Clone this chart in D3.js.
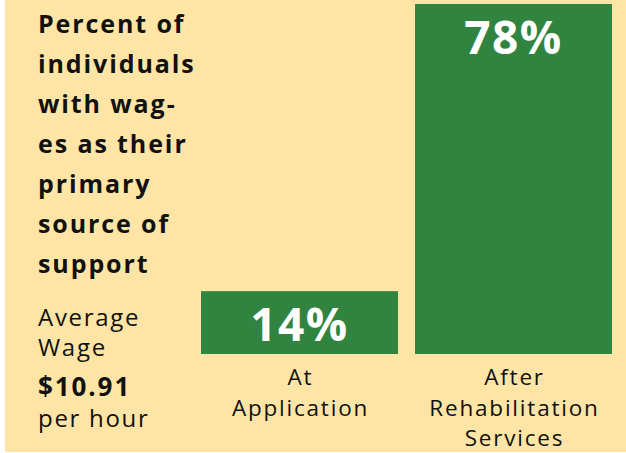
<!DOCTYPE html>
<html>
<head>
<meta charset="utf-8">
<script src="https://cdn.jsdelivr.net/npm/d3@7"></script>
<style>
  html, body { margin: 0; padding: 0; background: #ffffff; }
  svg { display: block; }
  text { font-family: "Open Sans", "Noto Sans", sans-serif; }
</style>
</head>
<body>
<svg width="626" height="453"></svg>
<script>
// chart data
var categories = ["At Application", "After Rehabilitation Services"];
var categoryLines = [["At", "Application"], ["After", "Rehabilitation", "Services"]];
var percentValues = [14, 78];
var titleLines = ["Percent of", "individuals", "with wag-", "es as their", "primary", "source of", "support"];
var wageLines = ["Average", "Wage"];
var wageValue = "$10.91";
var wageUnit = "per hour";

var svg = d3.select("svg");
var width = 626, height = 453;
var green = "#31843f";

//Background panel
svg.append("rect")
  .attr("x", 5)
  .attr("y", 0)
  .attr("width", width - 5)
  .attr("height", height - 1)
  .attr("fill", "#ffe5a5");

//Scales
var xScale = d3.scaleBand()
  .domain(categories)
  .range([201, 612])
  .paddingInner(17 / 214)
  .paddingOuter(0);

var yScale = d3.scaleLinear()
  .domain([0, 78])
  .range([354, 4]);

//Bars
svg.selectAll(".bar")
  .data(percentValues)
  .join("rect")
  .attr("class", "bar")
  .attr("x", (d, i) => xScale(categories[i]))
  .attr("y", d => yScale(d))
  .attr("width", xScale.bandwidth())
  .attr("height", d => yScale(0) - yScale(d))
  .attr("fill", green);

//Value labels inside bars
svg.selectAll(".value-label")
  .data(percentValues)
  .join("text")
  .attr("class", "value-label")
  .attr("x", (d, i) => xScale(categories[i]) + xScale.bandwidth() / 2)
  .attr("y", d => yScale(d) + 50)
  .attr("text-anchor", "middle")
  .attr("fill", "#ffffff")
  .attr("font-weight", "bold")
  .attr("font-size", 46)
  .attr("letter-spacing", 1.5)
  .text(d => d + "%");

//Category labels under bars, one text per line
categoryLines.forEach(function (lines, i) {
  svg.selectAll(".cat-label-" + i)
    .data(lines)
    .join("text")
    .attr("class", "cat-label-" + i)
    .attr("text-anchor", "middle")
    .attr("font-size", 22.5)
    .attr("letter-spacing", 1.8)
    .attr("fill", "#111")
    .attr("x", xScale(categories[i]) + xScale.bandwidth() / 2 + 1)
    .attr("y", (d, j) => 385 + j * 30.5)
    .text(d => d);
});

//Title on the left
svg.append("text")
  .attr("font-weight", "bold")
  .attr("font-size", 25)
  .attr("letter-spacing", 1.9)
  .attr("fill", "#111")
  .selectAll("tspan")
  .data(titleLines)
  .join("tspan")
  .attr("x", 38)
  .attr("y", (d, i) => 33 + i * 40)
  .text(d => d);

//Average wage note
var note = svg.append("text")
  .attr("font-size", 24)
  .attr("letter-spacing", 1.7)
  .attr("fill", "#111");
note.selectAll("tspan.wage")
  .data(wageLines)
  .join("tspan")
  .attr("class", "wage")
  .attr("x", 38)
  .attr("y", (d, i) => 326 + i * 30)
  .text(d => d);
note.append("tspan")
  .attr("x", 38)
  .attr("y", 396)
  .attr("font-weight", "bold")
  .attr("font-size", 26)
  .attr("letter-spacing", 1.9)
  .text(wageValue);
note.append("tspan")
  .attr("x", 38)
  .attr("y", 427)
  .text(wageUnit);
</script>
</body>
</html>
